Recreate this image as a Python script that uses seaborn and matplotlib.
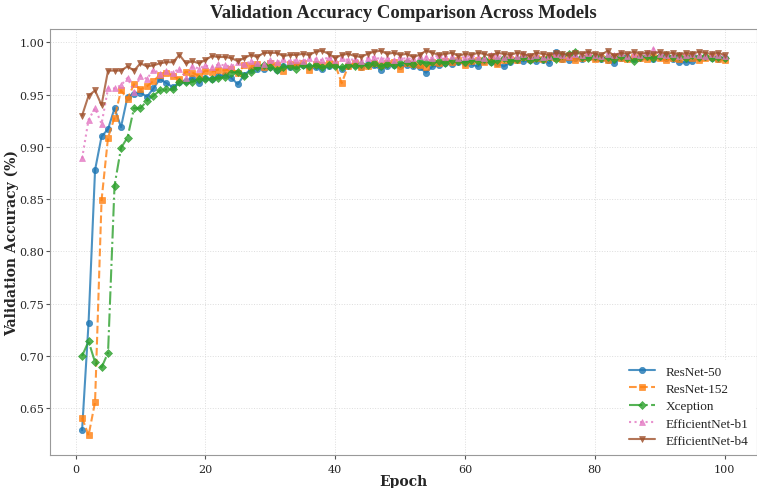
import numpy as np
import pandas as pd
import matplotlib
matplotlib.use("Agg")
import matplotlib.pyplot as plt
import seaborn as sns

epochs = list(range(1, 101))

resnet50 = [
    0.629, 0.732, 0.878, 0.910, 0.917, 0.937, 0.919, 0.948, 0.951, 0.952,
    0.948, 0.956, 0.965, 0.961, 0.957, 0.962, 0.963, 0.966, 0.961, 0.966,
    0.965, 0.968, 0.969, 0.966, 0.960, 0.969, 0.974, 0.975, 0.975, 0.976,
    0.974, 0.977, 0.976, 0.977, 0.978, 0.976, 0.976, 0.975, 0.977, 0.978,
    0.975, 0.977, 0.978, 0.976, 0.979, 0.978, 0.974, 0.977, 0.978, 0.977,
    0.978, 0.977, 0.976, 0.971, 0.977, 0.978, 0.980, 0.979, 0.981, 0.980,
    0.979, 0.977, 0.982, 0.981, 0.980, 0.977, 0.981, 0.983, 0.982, 0.983,
    0.982, 0.983, 0.980, 0.991, 0.984, 0.983, 0.985, 0.984, 0.986, 0.985,
    0.984, 0.983, 0.980, 0.985, 0.986, 0.984, 0.985, 0.986, 0.984, 0.986,
    0.985, 0.984, 0.981, 0.981, 0.982, 0.985, 0.986, 0.985, 0.984, 0.985,
]
resnet152 = [
    0.641, 0.624, 0.656, 0.849, 0.909, 0.928, 0.954, 0.946, 0.960, 0.955,
    0.958, 0.963, 0.969, 0.971, 0.968, 0.965, 0.972, 0.971, 0.968, 0.973,
    0.972, 0.974, 0.973, 0.975, 0.971, 0.978, 0.977, 0.979, 0.976, 0.980,
    0.978, 0.973, 0.979, 0.978, 0.980, 0.974, 0.979, 0.978, 0.980, 0.979,
    0.961, 0.977, 0.980, 0.976, 0.977, 0.980, 0.978, 0.980, 0.981, 0.975,
    0.980, 0.979, 0.978, 0.976, 0.981, 0.980, 0.982, 0.981, 0.983, 0.978,
    0.982, 0.983, 0.981, 0.984, 0.979, 0.983, 0.984, 0.983, 0.986, 0.984,
    0.985, 0.984, 0.986, 0.985, 0.984, 0.986, 0.983, 0.985, 0.986, 0.984,
    0.985, 0.983, 0.986, 0.985, 0.984, 0.986, 0.985, 0.984, 0.986, 0.985,
    0.983, 0.985, 0.984, 0.986, 0.985, 0.983, 0.985, 0.986, 0.984, 0.983,
]
xception = [
    0.700, 0.714, 0.694, 0.689, 0.703, 0.863, 0.899, 0.909, 0.937, 0.937,
    0.944, 0.949, 0.954, 0.955, 0.955, 0.962, 0.962, 0.962, 0.965, 0.965,
    0.965, 0.966, 0.967, 0.971, 0.972, 0.968, 0.972, 0.976, 0.978, 0.976,
    0.974, 0.976, 0.977, 0.975, 0.978, 0.977, 0.978, 0.976, 0.978, 0.977,
    0.976, 0.978, 0.977, 0.979, 0.978, 0.980, 0.977, 0.979, 0.978, 0.980,
    0.981, 0.979, 0.982, 0.980, 0.981, 0.982, 0.980, 0.983, 0.982, 0.981,
    0.983, 0.982, 0.984, 0.981, 0.983, 0.985, 0.982, 0.984, 0.986, 0.983,
    0.985, 0.984, 0.986, 0.984, 0.988, 0.989, 0.991, 0.986, 0.985, 0.987,
    0.985, 0.986, 0.984, 0.987, 0.985, 0.982, 0.986, 0.987, 0.985, 0.987,
    0.988, 0.986, 0.987, 0.985, 0.988, 0.986, 0.987, 0.985, 0.986, 0.985,
]
effnet_b1 = [
    0.889, 0.926, 0.937, 0.922, 0.956, 0.956, 0.959, 0.966, 0.953, 0.968,
    0.965, 0.974, 0.970, 0.973, 0.971, 0.975, 0.966, 0.977, 0.975, 0.978,
    0.976, 0.979, 0.978, 0.977, 0.981, 0.979, 0.982, 0.980, 0.979, 0.983,
    0.981, 0.984, 0.982, 0.983, 0.982, 0.985, 0.984, 0.983, 0.986, 0.983,
    0.985, 0.983, 0.984, 0.982, 0.985, 0.986, 0.984, 0.985, 0.983, 0.986,
    0.984, 0.985, 0.987, 0.986, 0.985, 0.988, 0.986, 0.987, 0.985, 0.986,
    0.987, 0.986, 0.985, 0.988, 0.987, 0.986, 0.988, 0.987, 0.989, 0.987,
    0.988, 0.986, 0.987, 0.989, 0.988, 0.987, 0.989, 0.988, 0.990, 0.988,
    0.987, 0.989, 0.988, 0.990, 0.987, 0.989, 0.988, 0.990, 0.994, 0.989,
    0.988, 0.989, 0.987, 0.988, 0.989, 0.988, 0.987, 0.989, 0.988, 0.987,
]
effnet_b4 = [
    0.930, 0.949, 0.954, 0.940, 0.973, 0.973, 0.973, 0.977, 0.973, 0.980,
    0.977, 0.978, 0.980, 0.981, 0.981, 0.988, 0.980, 0.982, 0.980, 0.983,
    0.987, 0.986, 0.986, 0.985, 0.982, 0.985, 0.988, 0.986, 0.990, 0.990,
    0.990, 0.987, 0.988, 0.988, 0.989, 0.988, 0.991, 0.992, 0.989, 0.985,
    0.988, 0.989, 0.987, 0.986, 0.989, 0.991, 0.992, 0.989, 0.990, 0.988,
    0.989, 0.986, 0.988, 0.992, 0.990, 0.988, 0.989, 0.990, 0.987, 0.989,
    0.988, 0.990, 0.989, 0.987, 0.990, 0.989, 0.988, 0.990, 0.989, 0.987,
    0.990, 0.989, 0.988, 0.990, 0.989, 0.988, 0.990, 0.989, 0.991, 0.989,
    0.988, 0.992, 0.987, 0.990, 0.989, 0.991, 0.989, 0.990, 0.989, 0.991,
    0.989, 0.990, 0.988, 0.990, 0.989, 0.991, 0.990, 0.989, 0.990, 0.988,
]

models = ["ResNet-50", "ResNet-152", "Xception", "EfficientNet-b1", "EfficientNet-b4"]
series = [resnet50, resnet152, xception, effnet_b1, effnet_b4]

sns.set_style("whitegrid")
plt.rcParams["font.family"] = ["DejaVu Serif"]

fig, ax = plt.subplots(figsize=(7.57, 4.89), dpi=100)

styles = {
    "ResNet-50": dict(color="#1f77b4", marker="o", ls="-"),
    "ResNet-152": dict(color="#ff7f0e", marker="s", ls="--"),
    "Xception": dict(color="#2ca02c", marker="D", ls="-."),
    "EfficientNet-b1": dict(color="#e377c2", marker="^", ls=":"),
    "EfficientNet-b4": dict(color="#a0522d", marker="v", ls="-"),
}

for name, vals in zip(models, series):
    df = pd.DataFrame({"Epoch": epochs, "Acc": vals})
    st = styles[name]
    sns.lineplot(data=df, x="Epoch", y="Acc", ax=ax, label=name,
                 color=st["color"], marker=st["marker"], linestyle=st["ls"],
                 markersize=4.5, linewidth=1.5, alpha=0.8,
                 markeredgewidth=0.5, markeredgecolor=st["color"])

ax.set_title("Validation Accuracy Comparison Across Models",
             fontsize=13.5, fontweight="bold", pad=9,
             family=["Liberation Serif", "DejaVu Serif"])
ax.set_xlabel("Epoch", fontsize=10, fontweight="bold", labelpad=0)
ax.set_ylabel("Validation Accuracy (%)", fontsize=10, fontweight="bold", labelpad=0.3)
ax.tick_params(axis="x", labelsize=8, length=3, pad=3.5, color="#555555", bottom=True)
ax.tick_params(axis="y", labelsize=8, length=3, pad=1.2, color="#555555", left=True)
ax.grid(True, linestyle=":", linewidth=0.7, color="#dddddd")
for sp in ax.spines.values():
    sp.set_color("#999999")
    sp.set_linewidth(0.8)

leg = ax.legend(loc="lower right", frameon=True, framealpha=1.0,
                edgecolor="white", labelspacing=0.38, borderaxespad=0.2,
                prop={"family": ["Liberation Serif"], "size": 9.5})

fig.subplots_adjust(left=0.066, right=0.9995, top=0.938, bottom=0.068)
fig.savefig("out.png", dpi=100)
